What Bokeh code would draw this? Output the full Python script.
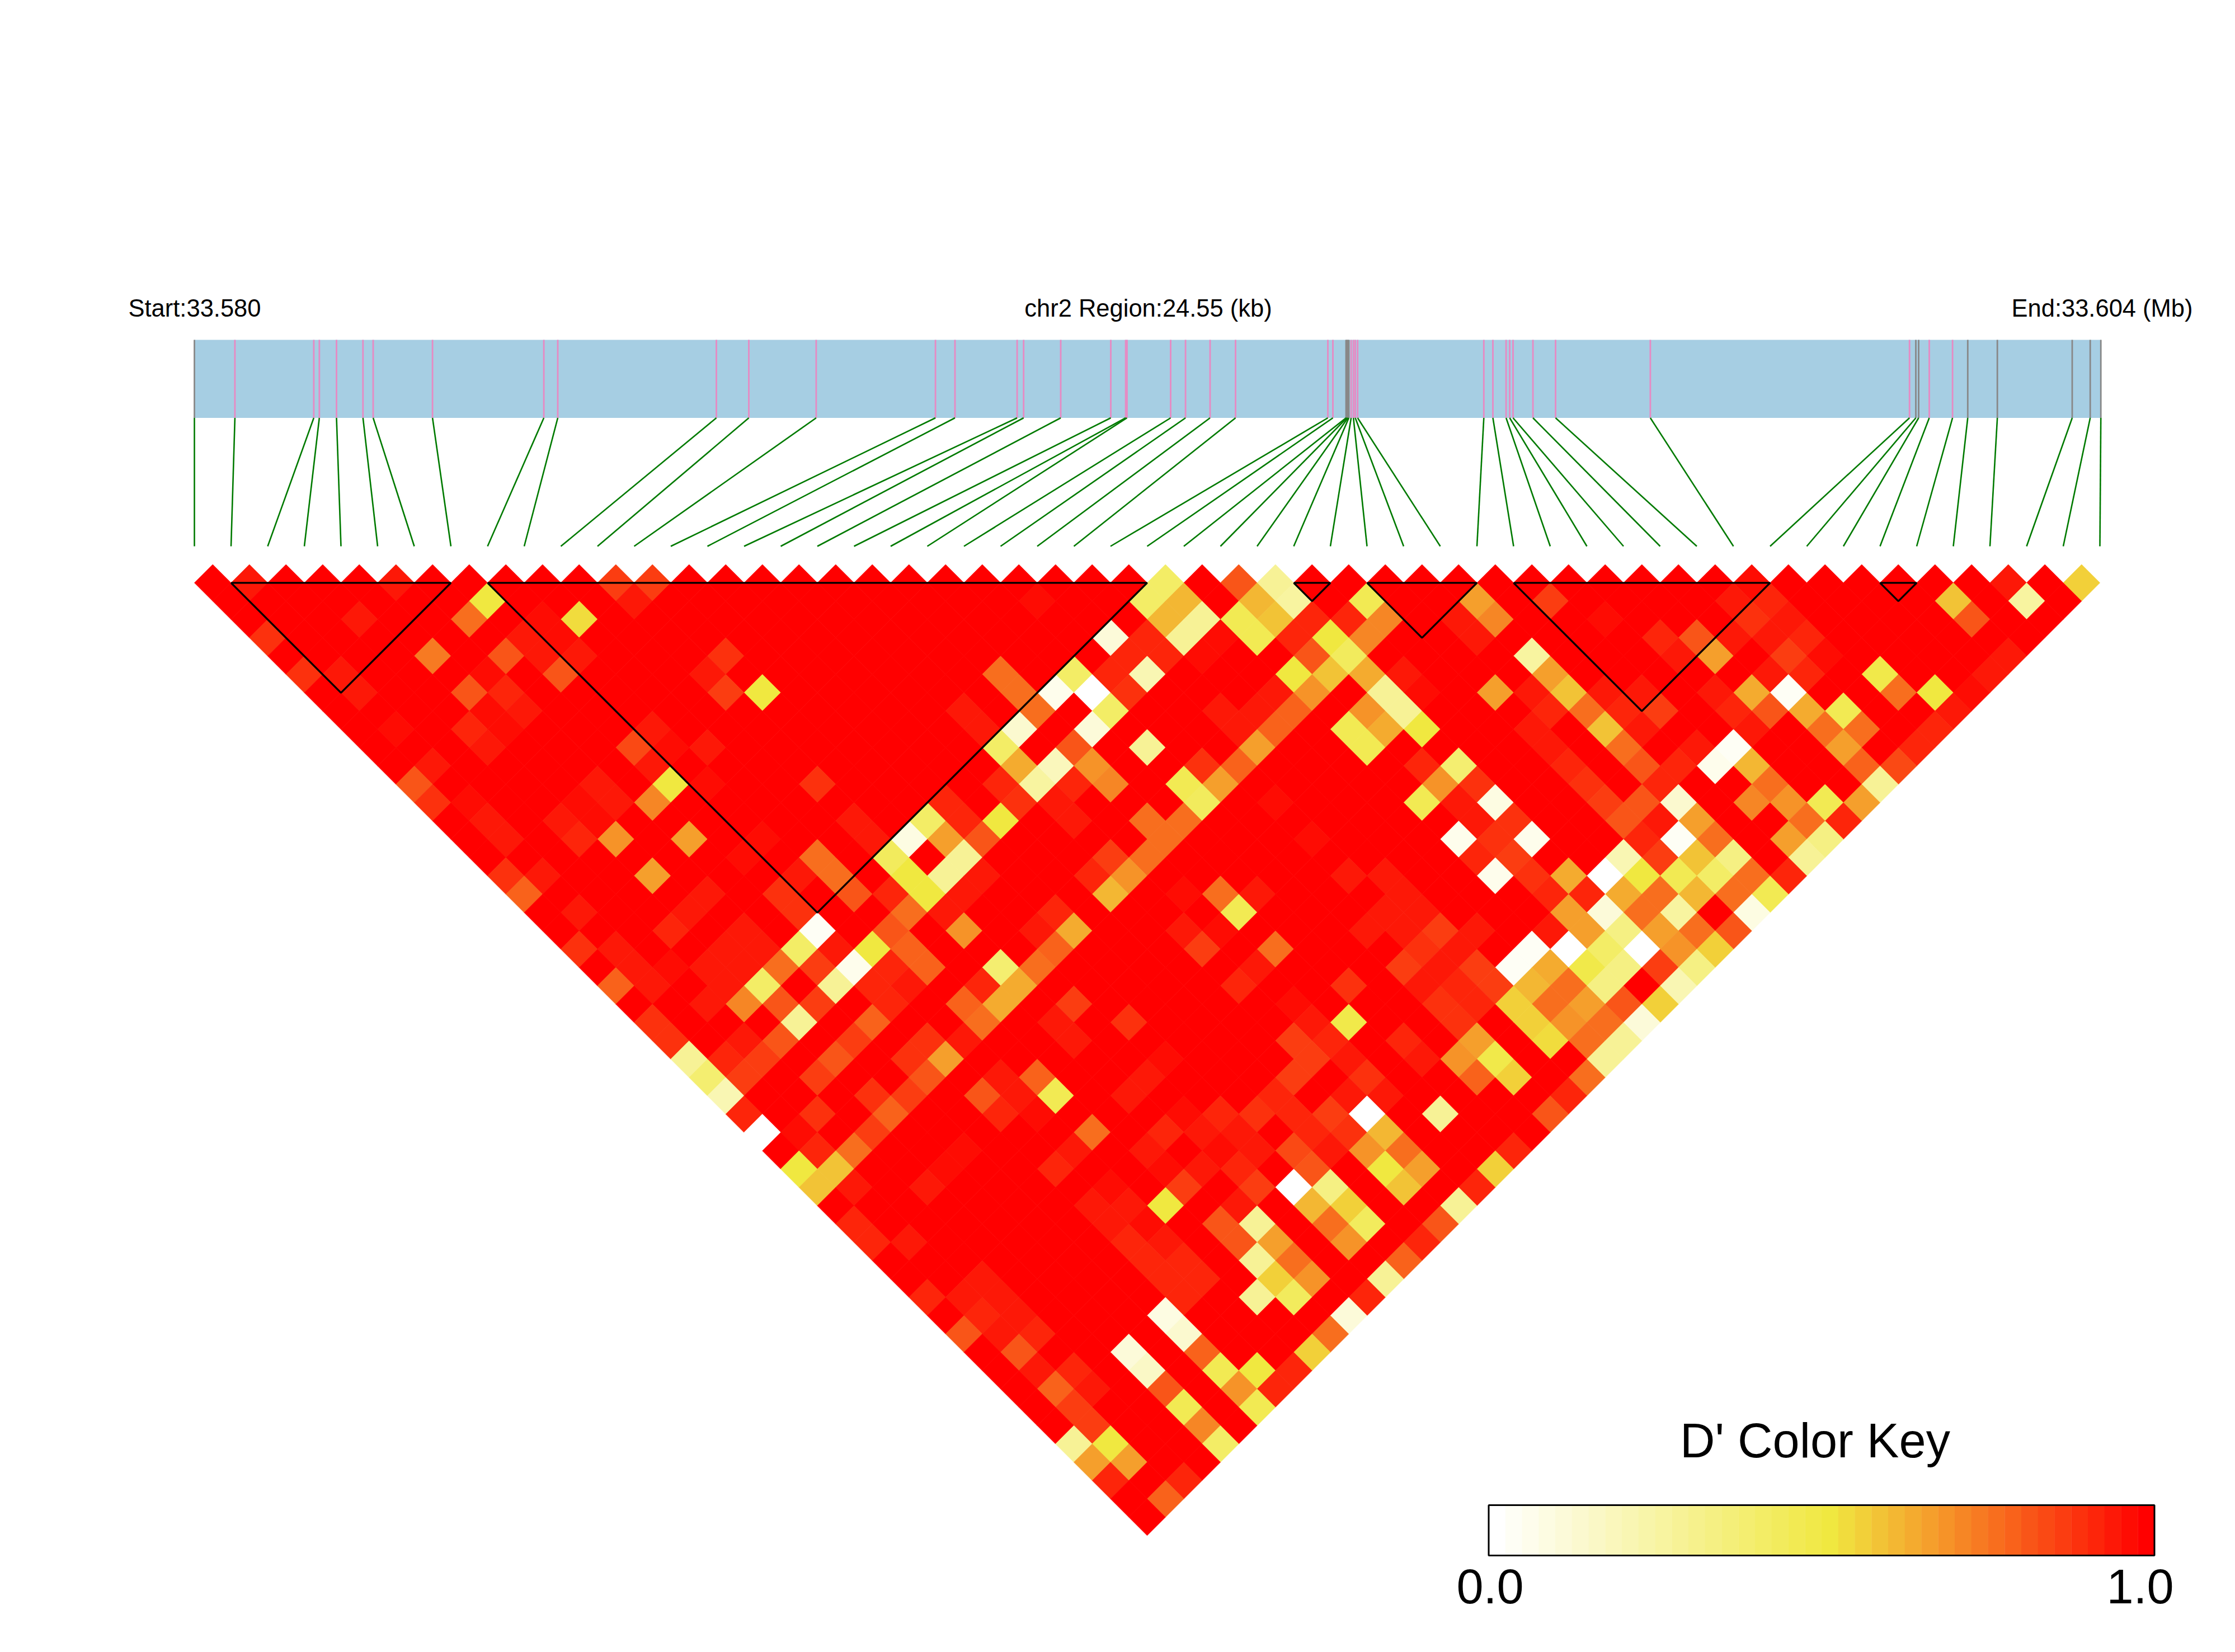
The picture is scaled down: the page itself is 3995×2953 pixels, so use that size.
from bokeh.plotting import figure
from bokeh.models import ColumnDataSource, LinearColorMapper, Range1d
from bokeh.core.properties import value
from bokeh.embed import file_html
from bokeh.resources import INLINE

# physical SNP positions, read as pixel offsets along the gene bar
snp_pos = [347, 419.4, 560.4, 570.3, 601, 648.3, 666.5, 772.6, 971.6, 996.5, 1280, 1338, 1458.4,
           1671.6, 1706.5, 1817.6, 1829.2, 1895.5, 1985, 2011.6, 2014, 2092, 2118.6, 2162.5, 2208,
           2373, 2382, 2405.5, 2407, 2408.8, 2410.5, 2414.6, 2418.7, 2422, 2426.2,
           2651.8, 2668, 2691.6, 2698, 2704, 2739.6, 2780, 2949.4, 3412.7, 3424, 3429, 3448,
           3489.6, 3516.8, 3569.7, 3703.5, 3735.7, 3754.7]
grey_ticks = [0, 27, 28, 29, 30, 44, 45, 48, 49, 50, 51, 52]
n_snp = len(snp_pos)

# D' below 1.0, by SNP separation (j-i) -> {i+j: D'}; every other pair is 1.0
dprime_below_one = {
 1: {3:.95, 11:.93, 23:.87, 25:.85, 53:.42, 57:.82, 59:.28, 85:.97, 99:.93, 103:.57},
 2: {16:.52, 24:.93, 46:.97, 52:.42, 54:.62, 58:.62, 60:.25, 64:.45, 70:.65, 74:.87, 84:.95, 86:.92, 96:.6, 100:.25},
 3: {9:.95, 15:.75, 19:.96, 21:.53, 53:.62, 55:.3, 57:.45, 59:.6, 61:.9, 63:.92, 65:.72, 69:.95, 71:.72, 77:.96, 85:.88, 87:.95, 97:.8},
 4: {4:.88, 18:.95, 20:.96, 50:.12, 52:.9, 54:.3, 56:.96, 58:.45, 60:.9, 62:.5, 64:.72, 70:.93, 80:.92, 82:.82, 84:.95, 86:.95, 88:.9},
 5: {13:.73, 17:.8, 19:.93, 21:.93, 29:.88, 51:.92, 53:.9, 55:.96, 61:.82, 63:.43, 73:.25, 81:.95, 83:.67, 87:.85, 89:.97, 99:.93},
 6: {6:.88, 8:.95, 16:.96, 20:.8, 28:.95, 44:.75, 48:.42, 50:.9, 52:.2, 60:.5, 62:.6, 64:.63, 66:.93, 74:.67, 86:.95, 88:.92, 92:.48, 98:.93},
 7: {9:.95, 15:.8, 17:.92, 29:.87, 31:.52, 45:.75, 47:.05, 49:.02, 51:.88, 59:.95, 61:.68, 65:.3, 67:.96, 71:.65, 73:.93, 75:.6, 77:.95, 79:.94, 83:.95, 85:.63, 87:.03, 93:.75, 95:.52, 97:.97},
 8: {13:.95, 16:.96, 18:.95, 40:.98, 42:.95, 46:.75, 50:.42, 56:.95, 58:.95, 60:.78, 64:.68, 66:.28, 74:.9, 76:.77, 78:.9, 80:.87, 84:.9, 86:.8, 88:.63, 90:.47, 96:.93},
 9: {11:.97, 15:.92, 17:.97, 25:.95, 43:.95, 45:.15, 49:.1, 57:.93, 59:.78, 63:.45, 65:.63, 67:.52, 73:.93, 77:.6, 79:.93, 85:.95, 89:.76, 91:.75, 95:.9},
 10: {16:.95, 24:.83, 26:.97, 28:.95, 44:.42, 48:.82, 52:.3, 58:.65, 64:.45, 74:.95, 78:.77, 82:.93, 84:.03, 90:.67, 94:.9},
 11: {13:.95, 25:.95, 45:.63, 47:.18, 49:.7, 55:.88, 57:.78, 67:.92, 69:.38, 75:.9, 79:.82, 81:.9, 83:.05, 85:.62, 91:.78, 93:.83},
 12: {12:.8, 22:.95, 26:.5, 28:.96, 34:.88, 44:.92, 46:.27, 48:.92, 50:.72, 54:.45, 56:.65, 68:.7, 70:.88, 76:.88, 80:.9, 86:.75, 92:.3},
 13: {13:.88, 15:.97, 21:.96, 23:.93, 25:.72, 41:.9, 45:.88, 47:.93, 55:.43, 59:.96, 67:.45, 69:.93, 71:.08, 77:.85, 79:.8, 81:.15, 85:.72, 87:.68, 89:.47, 91:.66},
 14: {16:.94, 20:.95, 22:.96, 36:.95, 40:.42, 42:.9, 44:.52, 48:.95, 52:.75, 54:.75, 70:.93, 72:.88, 78:.8, 80:.93, 82:.66, 88:.75, 90:.9},
 15: {17:.94, 21:.92, 23:.7, 27:.67, 31:.97, 37:.95, 39:.08, 41:.65, 43:.82, 53:.75, 61:.97, 69:.05, 71:.88, 73:.05, 79:.9, 81:.03, 83:.75, 87:.67, 89:.35},
 16: {30:.97, 34:.75, 38:.43, 42:.3, 50:.87, 52:.75, 70:.9, 72:.87, 78:.2, 80:.87, 82:.6, 84:.33, 88:.28},
 17: {17:.88, 19:.95, 25:.67, 33:.95, 35:.75, 39:.52, 41:.28, 43:.93, 49:.9, 51:.68, 63:.95, 65:.95, 71:.05, 73:.88, 75:.63, 77:.02, 79:.52, 81:.47, 83:.42, 85:.75, 87:.9},
 18: {18:.78, 28:.93, 32:.88, 36:.82, 38:.92, 40:.5, 42:.93, 50:.62, 54:.96, 56:.77, 58:.95, 66:.95, 74:.9, 76:.92, 78:.63, 80:.77, 82:.62, 84:.75, 86:.45},
 19: {21:.95, 27:.95, 33:.88, 39:.75, 41:.95, 47:.92, 57:.45, 65:.95, 67:.95, 75:.65, 77:.12, 79:.77, 81:.25, 85:.08},
 20: {26:.92, 30:.95, 34:.03, 38:.8, 42:.68, 46:.93, 48:.63, 54:.95, 56:.96, 64:.95, 66:.95, 68:.87, 70:.93, 74:.93, 76:.67, 78:.35, 80:.67, 82:.75, 84:.82},
 21: {21:.88, 23:.95, 29:.95, 31:.95, 33:.4, 35:.95, 37:.5, 39:.78, 47:.78, 55:.87, 59:.75, 67:.88, 69:.93, 73:.04, 75:.02, 77:.42, 79:.02, 81:.7, 83:.55},
 22: {24:.95, 26:.96, 28:.95, 30:.95, 32:.75, 34:.85, 36:.05, 38:.9, 40:.78, 44:.38, 46:.77, 58:.95, 66:.87, 68:.95, 70:.85, 72:.04, 74:.63, 76:.48, 78:.35, 80:.85, 82:.33},
 23: {23:.78, 25:.95, 29:.93, 31:.42, 35:.28, 37:.9, 39:.95, 43:.9, 45:.63, 57:.9, 63:.88, 67:.93, 69:.9, 71:.85, 73:.62, 75:.77, 77:.35, 81:.2},
 24: {28:.95, 30:.72, 32:.8, 34:.85, 38:.92, 42:.78, 44:.63, 48:.87, 60:.97, 68:.88, 70:.9, 72:.55, 74:.77, 76:.66, 78:.8, 80:.57},
 25: {25:.88, 33:.3, 37:.78, 43:.77, 47:.95, 51:.88, 61:.95, 63:.48, 69:.88, 73:.55, 75:.68, 77:.75, 79:.1},
 26: {26:.88, 30:.95, 32:.82, 36:.85, 40:.88, 42:.95, 48:.95, 60:.87, 62:.9, 66:.9, 70:.67, 74:.53, 76:.77, 78:.3},
 27: {27:.3, 29:.9, 31:.85, 35:.8, 39:.88, 41:.65, 53:.97, 61:.87, 63:.95, 67:.95, 69:.68, 71:.48, 77:.3},
 28: {28:.38, 30:.85, 34:.85, 40:.82, 44:.93, 46:.78, 52:.93, 60:.87, 64:.88, 70:.78, 72:.55, 76:.75},
 29: {29:.2, 37:.88, 39:.87, 43:.82, 45:.95, 47:.45, 51:.95, 59:.92, 63:.95, 65:.95, 75:.9},
 30: {30:.9, 34:.88, 38:.78, 44:.9, 46:.97, 54:.97, 56:.9, 58:.88, 60:.9, 62:.85, 64:.02, 68:.3, 74:.8},
 31: {31:.02, 33:.96, 37:.85, 49:.77, 53:.92, 55:.95, 57:.93, 61:.9, 63:.88, 65:.62},
 32: {34:.9, 36:.75, 42:.96, 48:.93, 52:.95, 56:.96, 58:.95, 60:.83, 62:.93, 64:.68, 66:.77, 72:.9},
 33: {33:.5, 35:.6, 41:.97, 47:.9, 53:.97, 55:.95, 57:.9, 61:.8, 65:.5, 67:.67, 71:.55},
 34: {34:.58, 36:.93, 40:.95, 50:.97, 54:.87, 58:.87, 60:.02, 62:.33, 66:.58, 70:.9},
 35: {49:.93, 51:.95, 53:.5, 57:.95, 61:.62, 63:.55, 69:.3},
 36: {36:.92, 50:.93, 52:.97, 56:.82, 58:.3, 62:.77, 64:.43, 68:.82},
 37: {37:.9, 39:.95, 51:.9, 53:.95, 57:.8, 59:.65, 63:.7, 67:.9},
 38: {52:.92, 54:.9, 58:.3, 60:.75, 66:.78},
 39: {43:.95, 53:.9, 55:.9, 59:.55, 61:.7, 65:.28},
 40: {40:.9, 42:.95, 44:.95, 54:.9, 58:.28, 60:.43, 64:.9},
 41: {43:.9, 45:.95, 53:.08, 63:.1},
 42: {42:.8, 44:.95, 46:.9, 54:.15, 62:.75},
 43: {45:.8, 51:.1, 55:.78, 61:.55},
 44: {46:.95, 48:.9, 52:.17, 56:.45, 58:.5, 60:.9},
 45: {47:.78, 49:.93, 53:.8, 57:.7, 59:.9},
 46: {48:.85, 54:.45, 58:.45},
 47: {49:.87, 55:.72},
 48: {48:.3, 50:.5, 56:.42},
 49: {49:.65, 51:.67},
 50: {50:.9, 54:.9},
 51: {53:.78},
}

ld_blocks = [(1, 7), (8, 26), (30, 31), (32, 35), (36, 43), (46, 47)]
key_palette = ["#%02x%02x%02x" % tuple(round(c0 + (c1 - c0) * t) for c0, c1 in zip(a, b))
               for a, b, t in
               [((255, 255, 255), (240, 232, 64), n / 20) for n in range(21)] +
               [((240, 232, 64), (255, 0, 0), n / 19) for n in range(1, 20)]]
labels = ["Start:33.580", "chr2 Region:24.55 (kb)", "End:33.604 (Mb)"]
key_title = "D' Color Key"
key_labels = ["0.0", "1.0"]

# layout, in pixels of the page
X0, STEP, Y_TOP = 347.0, 65.5, 1008.6
BAR_TOP, BAR_BOTTOM, LINK_BOTTOM = 607.0, 746.5, 976.0
KEY_L, KEY_R, KEY_T, KEY_B = 2660.5, 3850.5, 2690.0, 2780.0

p = figure(width=3979, height=2937, x_range=Range1d(0, 3979), y_range=Range1d(2937, 0),
           output_backend="svg", toolbar_location=None, min_border=0, outline_line_color=None)
p.axis.visible = False
p.grid.visible = False

mapper = LinearColorMapper(palette=key_palette, low=0, high=1)

# LD cells
xs, ys, vals = [], [], []
for sep in range(1, n_snp):
    row = dprime_below_one.get(sep, {})
    for i in range(0, n_snp - sep):
        total = 2 * i + sep
        v = row.get(total, 1.0)
        cx = X0 + total * STEP / 2
        cy = Y_TOP + sep * STEP / 2
        h = STEP / 2
        xs.append([cx - h, cx, cx + h, cx])
        ys.append([cy, cy - h, cy, cy + h])
        vals.append(v)
cell_src = ColumnDataSource(dict(xs=xs, ys=ys, v=vals))
p.patches("xs", "ys", source=cell_src,
          fill_color={"field": "v", "transform": mapper},
          line_color={"field": "v", "transform": mapper}, line_width=0.8)

# gene bar
p.quad(left=[X0], right=[snp_pos[-1]], top=[BAR_TOP], bottom=[BAR_BOTTOM],
       fill_color="#a6cee3", line_color=None)
tick_colors = ["#888888" if k in grey_ticks else "#e78ac3" for k in range(n_snp)]
p.segment(x0=snp_pos, x1=snp_pos, y0=[BAR_TOP] * n_snp, y1=[BAR_BOTTOM] * n_snp,
          line_color=tick_colors, line_width=2.8)
# connectors
grid_x = [X0 + k * STEP for k in range(n_snp)]
p.segment(x0=snp_pos, x1=grid_x, y0=[BAR_BOTTOM] * n_snp, y1=[LINK_BOTTOM] * n_snp,
          line_color="#007a00", line_width=2.6)

# LD blocks
y0 = Y_TOP + STEP / 2
bx, by = [], []
for s, e in ld_blocks:
    xa, xb = X0 + s * STEP, X0 + e * STEP
    bx.append([xa, xb, (xa + xb) / 2, xa])
    by.append([y0, y0, y0 + (e - s) * STEP / 2, y0])
p.multi_line(bx, by, line_color="black", line_width=3.4)

# header texts
p.text(x=[347.5, 2052, 3757], y=[550] * 3, text=labels, text_align="center",
       text_baseline="alphabetic", text_font=value("Liberation Sans"),
       text_font_size=value("43.5px"), text_color="black")

# colour key
n = len(key_palette)
w = (KEY_R - KEY_L) / n
p.quad(left=[KEY_L + k * w for k in range(n)], right=[KEY_L + (k + 1) * w + 0.4 for k in range(n)],
       top=[KEY_T] * n, bottom=[KEY_B] * n, fill_color=key_palette, line_color=None)
p.quad(left=[KEY_L], right=[KEY_R], top=[KEY_T], bottom=[KEY_B], fill_color=None,
       line_color="black", line_width=3)
p.text(x=[3244], y=[2574], text=[key_title], text_align="center", text_baseline="alphabetic",
       text_font=value("Liberation Sans"), text_font_size=value("86.5px"), text_color="black")
p.text(x=[2663, 3825], y=[2835, 2835], text=key_labels, text_align="center", text_baseline="alphabetic",
       text_font=value("Liberation Sans"), text_font_size=value("86.5px"), text_color="black")

open("out.html", "w").write(file_html(p, INLINE))
